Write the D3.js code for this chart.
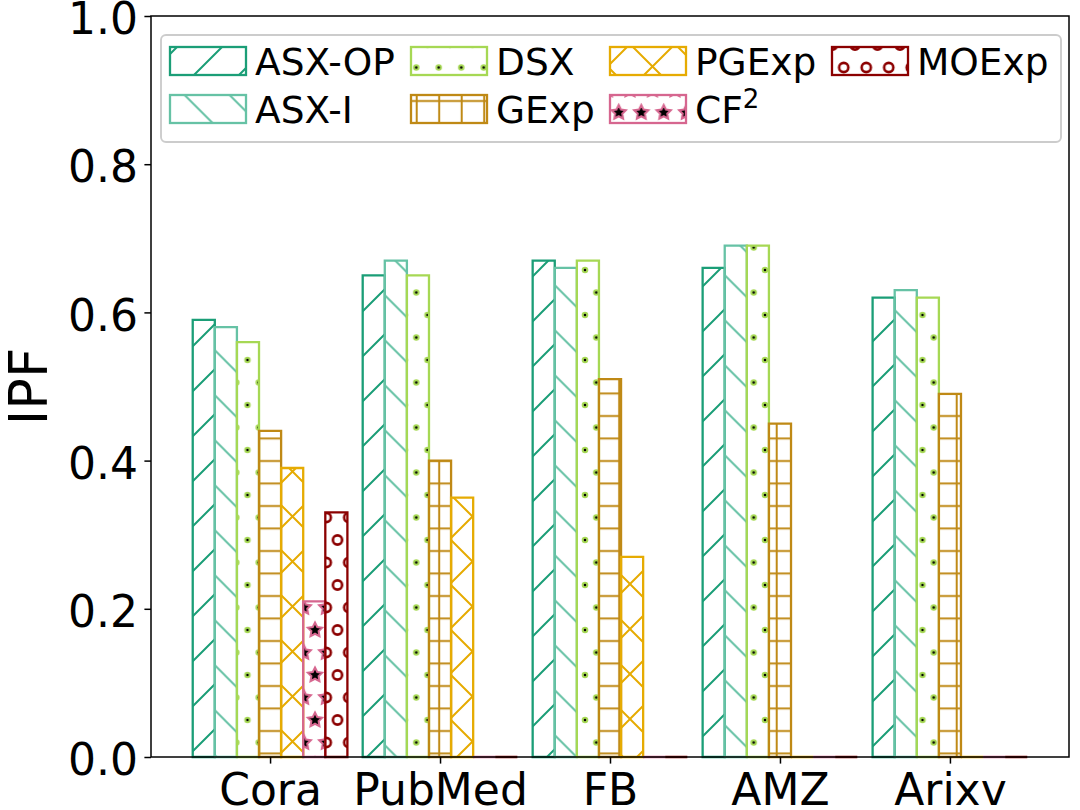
<!DOCTYPE html>
<html><head><meta charset="utf-8">
<script src="https://cdn.jsdelivr.net/npm/d3@7"></script>
<style>body{margin:0;background:#fff} svg{display:block;font-family:"DejaVu Sans",sans-serif}</style>
</head><body><svg id="c" width="1080" height="810"></svg>
<script>
// ---- data ----
const categories = ["Cora", "PubMed", "FB", "AMZ", "Arixv"];
const seriesNames = ["ASX-OP", "ASX-I", "DSX", "GExp", "PGExp", "CF2", "MOExp"];
const asxOP = [0.59, 0.65, 0.67, 0.66, 0.62];
const asxI  = [0.58, 0.67, 0.66, 0.69, 0.63];
const dsx   = [0.56, 0.65, 0.67, 0.69, 0.62];
const gexp  = [0.44, 0.40, 0.51, 0.45, 0.49];
const pgexp = [0.39, 0.35, 0.27, 0.00, 0.00];
const cf2   = [0.21, 0.00, 0.00, 0.00, 0.00];
const moexp = [0.33, 0.00, 0.00, 0.00, 0.00];
const yTicks = [0.0, 0.2, 0.4, 0.6, 0.8, 1.0];
const yLabel = "IPF";

const seriesValues = [asxOP, asxI, dsx, gexp, pgexp, cf2, moexp];
// ---- styles ----
const colors = ["#1b9e77", "#66c2a5", "#a6d854", "#bf8915", "#e6ab02", "#d6668f", "#8b0000"];
const hatches = ["ne", "nw", "dots", "plus", "x", "stars", "circles"];

const W = 1080, H = 810;
const L = 151, R = 1069, T = 16, B = 757;
const barW = 0.13;
const svg = d3.select("#c");

const lo = -3.5 * barW, hi = (categories.length - 1) + 3.5 * barW, span = hi - lo;
const x = d3.scaleLinear().domain([lo - 0.05 * span, hi + 0.05 * span]).range([L, R]);
const y = d3.scaleLinear().domain([0, 1]).range([B, T]);

// ---- hatch patterns ----
const defs = svg.append("defs");
const HW = 2.0;
function starPath(cx, cy, r) {
  const pts = [];
  for (let k = 0; k < 10; k++) {
    const rr = k % 2 === 0 ? r : r * 0.5;
    const a = -Math.PI / 2 + k * Math.PI / 5;
    pts.push([cx + rr * Math.cos(a), cy + rr * Math.sin(a)]);
  }
  return "M" + pts.map(p => p[0].toFixed(2) + "," + p[1].toFixed(2)).join("L") + "Z";
}
const shapePts = [[0, 0], [22.5, 0], [0, 45], [22.5, 45], [11.25, 22.5]];
hatches.forEach((h, j) => {
  const c = colors[j];
  const id = "hatch" + j;
  let p;
  if (h === "ne" || h === "nw" || h === "x") {
    p = defs.append("pattern").attr("id", id).attr("patternUnits", "userSpaceOnUse")
      .attr("width", 45).attr("height", 45).attr("x", 0).attr("y", h === "nw" ? 0.4 : -1);
    let d = "";
    if (h === "ne" || h === "x") d += "M-5,50L50,-5M-5,5L5,-5M40,50L50,40";
    if (h === "nw" || h === "x") d += "M-5,-5L50,50M40,-5L50,5M-5,40L5,50";
    p.append("path").attr("d", d).attr("stroke", c).attr("stroke-width", HW).attr("fill", "none");
  } else if (h === "plus") {
    p = defs.append("pattern").attr("id", id).attr("patternUnits", "userSpaceOnUse")
      .attr("width", 22.5).attr("height", 22.5).attr("x", 0).attr("y", 0);
    p.append("path").attr("d", "M11.7,-1V24M-1,11H24").attr("stroke", c).attr("stroke-width", HW).attr("fill", "none");
  } else {
    p = defs.append("pattern").attr("id", id).attr("patternUnits", "userSpaceOnUse")
      .attr("width", 22.5).attr("height", 45).attr("x", 0).attr("y", 0);
    shapePts.forEach(([cx, cy]) => {
      if (h === "dots") {
        p.append("circle").attr("cx", cx).attr("cy", cy).attr("r", 2.25)
          .attr("fill", "#000").attr("stroke", c).attr("stroke-width", HW);
      } else if (h === "stars") {
        p.append("path").attr("d", starPath(cx, cy, 7.5))
          .attr("fill", "#000").attr("stroke", c).attr("stroke-width", HW).attr("stroke-linejoin", "miter");
      } else {
        p.append("circle").attr("cx", cx).attr("cy", cy).attr("r", 4.6)
          .attr("fill", "none").attr("stroke", c).attr("stroke-width", 2.6);
      }
    });
  }
});

// ---- bars ----
seriesNames.forEach((name, j) => {
  const g = svg.append("g");
  g.selectAll("path").data(seriesValues[j]).join("path")
    .attr("d", (v, i) => {
      const xc = i + (j - 3) * barW;
      const x0 = x(xc - barW / 2), x1 = x(xc + barW / 2), yt = y(v);
      return `M${x0},${B}H${x1}V${yt}H${x0}Z`;
    })
    .attr("fill", "url(#hatch" + j + ")")
    .attr("stroke", colors[j]).attr("stroke-width", 2.3);
});

// ---- axes ----
svg.append("rect").attr("x", L).attr("y", T).attr("width", R - L).attr("height", B - T)
  .attr("fill", "none").attr("stroke", "#000").attr("stroke-width", 1.5);

const yAxis = svg.append("g").attr("transform", `translate(${L},0)`)
  .call(d3.axisLeft(y).tickValues(yTicks).tickFormat(d3.format(".1f")).tickSize(6.6).tickPadding(6.5));
yAxis.select(".domain").remove();
yAxis.selectAll("line").attr("stroke", "#000").attr("stroke-width", 1.5);
yAxis.selectAll("text").attr("font-size", 44).attr("fill", "#000").attr("dy", "0.4em")
  .attr("font-family", "DejaVu Sans");

const xAxis = svg.append("g").attr("transform", `translate(0,${B})`)
  .call(d3.axisBottom(x).tickValues(d3.range(categories.length)).tickFormat(i => categories[i]).tickSize(6.6).tickPadding(10));
xAxis.select(".domain").remove();
xAxis.selectAll("line").attr("stroke", "#000").attr("stroke-width", 1.5);
xAxis.selectAll("text").attr("font-size", 44).attr("fill", "#000").attr("font-family", "DejaVu Sans");

svg.append("text").attr("transform", `translate(46.5,${(T + B) / 2}) rotate(-90)`)
  .attr("text-anchor", "middle").attr("font-size", 52.5).attr("font-family", "DejaVu Sans").text(yLabel);

// ---- legend ----
const leg = svg.append("g");
leg.append("rect").attr("x", 161).attr("y", 35).attr("width", 900).attr("height", 107).attr("rx", 5)
  .attr("fill", "#fff").attr("fill-opacity", 0.8).attr("stroke", "#cccccc").attr("stroke-width", 1.9);
const colX = [170, 411, 610, 832], rowY = [47, 95];
seriesNames.forEach((name, j) => {
  const cx = colX[Math.floor(j / 2)], ry = rowY[j % 2];
  leg.append("rect").attr("x", cx).attr("y", ry).attr("width", 76).attr("height", 28)
    .attr("fill", "url(#hatch" + j + ")").attr("stroke", colors[j]).attr("stroke-width", 2.3);
  const t = leg.append("text").attr("x", cx + 85).attr("y", ry + 28).attr("font-size", 37.5)
    .attr("font-family", "DejaVu Sans");
  if (name === "CF2") {
    t.append("tspan").text("CF");
    t.append("tspan").attr("font-size", 26).attr("dy", -15).text("2");
  } else t.text(name);
});
</script></body></html>
